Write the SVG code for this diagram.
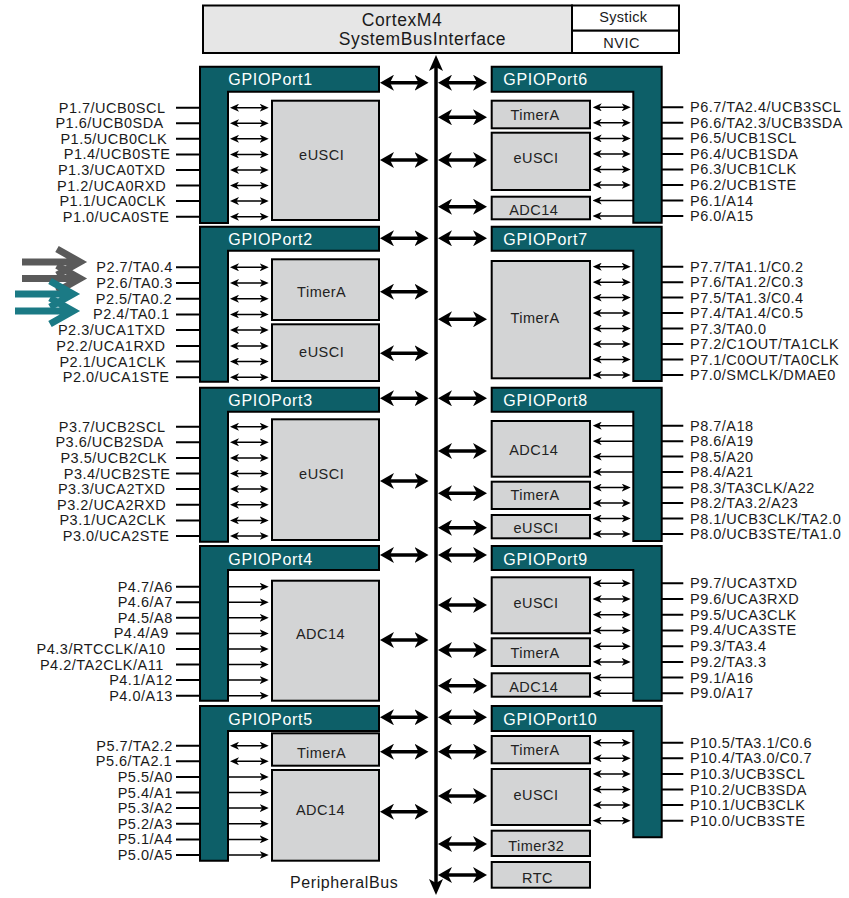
<svg xmlns="http://www.w3.org/2000/svg" width="849" height="898" viewBox="0 0 849 898">
<style>
text{font-family:"Liberation Sans",Arial,sans-serif}
.pin{font-size:14.5px;letter-spacing:0.5px;fill:#1a1a1a}
.pl{text-anchor:end}
.mod{font-size:14.5px;letter-spacing:0.5px;fill:#222;text-anchor:middle}
.ttl{font-size:16px;letter-spacing:0.7px;fill:#fff}
.port{fill:#0d5f68;stroke:#000;stroke-width:2}
.box{fill:#d3d4d5;stroke:#000;stroke-width:2}
.wire{stroke:#000;stroke-width:2;fill:none}
.bi{stroke:#000;stroke-width:1.5;marker-start:url(#sh);marker-end:url(#sh)}
.one{stroke:#000;stroke-width:1.5;marker-end:url(#sh)}
.ba{stroke:#000;stroke-width:3.5;marker-start:url(#bh);marker-end:url(#bh)}
.big{fill:none;stroke-width:7}
</style>
<defs>
<marker id="bh" viewBox="0 0 14 16" markerWidth="14" markerHeight="16" refX="8" refY="8" orient="auto-start-reverse" markerUnits="userSpaceOnUse"><path d="M0,0 L14,8 L0,16 L4,8 Z" fill="#000"/></marker>
<marker id="sh" viewBox="0 0 9 8" markerWidth="9" markerHeight="8" refX="6" refY="4" orient="auto-start-reverse" markerUnits="userSpaceOnUse"><path d="M0,0 L9,4 L0,8 L2.5,4 Z" fill="#000"/></marker>
<marker id="vh" viewBox="0 0 16 14" markerWidth="16" markerHeight="14" refX="8" refY="7" orient="auto-start-reverse" markerUnits="userSpaceOnUse"><path d="M0,0 L16,7 L0,14 L4,7 Z" fill="#000"/></marker>
</defs>
<rect width="849" height="898" fill="#fff"/>

<g id="cortex">
<rect x="203" y="5.5" width="369" height="47.5" fill="#e6e6e6" stroke="#000" stroke-width="2"/>
<text x="402" y="25.5" text-anchor="middle" font-size="17.5" letter-spacing="0.6" fill="#1a1a1a">CortexM4</text>
<text x="422.5" y="44.8" text-anchor="middle" font-size="17.5" letter-spacing="0.6" fill="#1a1a1a">SystemBusInterface</text>
</g>
<g id="systick">
<rect x="572" y="5.5" width="107" height="25.2" fill="#fff" stroke="#000" stroke-width="2"/>
<text x="623.3" y="21.7" text-anchor="middle" font-size="14.5" letter-spacing="0.3" fill="#1a1a1a">Systick</text>
</g>
<g id="nvic">
<rect x="572" y="30.7" width="107" height="22.3" fill="#fff" stroke="#000" stroke-width="2"/>
<text x="621.7" y="48.3" text-anchor="middle" font-size="14.5" letter-spacing="0.5" fill="#1a1a1a">NVIC</text>
</g>

<!-- Left ports -->
<g id="port1">
<path class="port" d="M200,66.7 H379 V91.7 H228 V223 H200 Z"/>
<text class="ttl" x="228.3" y="85.2">GPIOPort1</text>
<g class="pin pl">
<text x="165.5" y="112.7">P1.7/UCB0SCL</text>
<text x="163.8" y="128.3">P1.6/UCB0SDA</text>
<text x="167.2" y="143.8">P1.5/UCB0CLK</text>
<text x="170.5" y="159.4">P1.4/UCB0STE</text>
<text x="165.5" y="175">P1.3/UCA0TXD</text>
<text x="166.2" y="190.6">P1.2/UCA0RXD</text>
<text x="166.2" y="206.1">P1.1/UCA0CLK</text>
<text x="169.5" y="221.7">P1.0/UCA0STE</text>
</g>
</g>
<g id="p1-eusci"><rect class="box" x="272" y="100.7" width="107" height="119.3"/><text class="mod" x="321.7" y="160">eUSCI</text></g>

<g id="port2">
<path class="port" d="M200,226.7 H379 V250.7 H228 V381.7 H200 Z"/>
<text class="ttl" x="228.3" y="245">GPIOPort2</text>
<g class="pin pl">
<text x="172.8" y="272.3">P2.7/TA0.4</text>
<text x="172.8" y="288">P2.6/TA0.3</text>
<text x="172.2" y="303.7">P2.5/TA0.2</text>
<text x="169.5" y="319.4">P2.4/TA0.1</text>
<text x="165.5" y="335.1">P2.3/UCA1TXD</text>
<text x="165.5" y="350.9">P2.2/UCA1RXD</text>
<text x="166.2" y="366.6">P2.1/UCA1CLK</text>
<text x="169.5" y="382.3">P2.0/UCA1STE</text>
</g>
</g>
<g id="p2-timera"><rect class="box" x="272" y="259.3" width="107" height="60.7"/><text class="mod" x="321.7" y="296.7">TimerA</text></g>
<g id="p2-eusci"><rect class="box" x="272" y="324.3" width="107" height="56.7"/><text class="mod" x="321.7" y="356.7">eUSCI</text></g>

<g id="port3">
<path class="port" d="M200,387.7 H379 V411.7 H228 V541.7 H200 Z"/>
<text class="ttl" x="228.3" y="406">GPIOPort3</text>
<g class="pin pl">
<text x="165.5" y="431.7">P3.7/UCB2SCL</text>
<text x="163.8" y="447.3">P3.6/UCB2SDA</text>
<text x="167.2" y="462.9">P3.5/UCB2CLK</text>
<text x="170.5" y="478.5">P3.4/UCB2STE</text>
<text x="165.5" y="494.1">P3.3/UCA2TXD</text>
<text x="166.2" y="509.8">P3.2/UCA2RXD</text>
<text x="166.2" y="525.4">P3.1/UCA2CLK</text>
<text x="169.5" y="541">P3.0/UCA2STE</text>
</g>
</g>
<g id="p3-eusci"><rect class="box" x="272" y="419.3" width="107" height="120.7"/><text class="mod" x="321.7" y="479.3">eUSCI</text></g>

<g id="port4">
<path class="port" d="M200,546 H379 V570 H228 V700.7 H200 Z"/>
<text class="ttl" x="228.3" y="564.5">GPIOPort4</text>
<g class="pin pl">
<text x="172.8" y="591.7">P4.7/A6</text>
<text x="172.8" y="607.3">P4.6/A7</text>
<text x="172.8" y="622.8">P4.5/A8</text>
<text x="168.8" y="638.4">P4.4/A9</text>
<text x="165.5" y="654">P4.3/RTCCLK/A10</text>
<text x="163.8" y="669.6">P4.2/TA2CLK/A11</text>
<text x="172.8" y="685.1">P4.1/A12</text>
<text x="172.8" y="700.7">P4.0/A13</text>
</g>
</g>
<g id="p4-adc14"><rect class="box" x="272" y="580.7" width="107" height="120"/><text class="mod" x="320.5" y="639.3">ADC14</text></g>

<g id="port5">
<path class="port" d="M200,706 H379 V731 H228 V860.7 H200 Z"/>
<text class="ttl" x="228.3" y="724.5">GPIOPort5</text>
<g class="pin pl">
<text x="172.8" y="750.7">P5.7/TA2.2</text>
<text x="172.2" y="766.3">P5.6/TA2.1</text>
<text x="172.8" y="781.9">P5.5/A0</text>
<text x="172.8" y="797.5">P5.4/A1</text>
<text x="172.8" y="813.1">P5.3/A2</text>
<text x="172.8" y="828.8">P5.2/A3</text>
<text x="172.8" y="844.4">P5.1/A4</text>
<text x="172.8" y="860">P5.0/A5</text>
</g>
</g>
<g id="p5-timera"><rect class="box" x="272" y="733.3" width="107" height="32.4"/><text class="mod" x="321.7" y="757.7">TimerA</text></g>
<g id="p5-adc14"><rect class="box" x="272" y="770" width="107" height="90.7"/><text class="mod" x="320.5" y="815">ADC14</text></g>

<!-- Right ports -->
<g id="port6">
<path class="port" d="M491.7,66.7 H661.7 V222.7 H633.3 V91.7 H491.7 Z"/>
<text class="ttl" x="503.3" y="85.2">GPIOPort6</text>
<g class="pin">
<text x="690" y="112.3">P6.7/TA2.4/UCB3SCL</text>
<text x="690" y="127.8">P6.6/TA2.3/UCB3SDA</text>
<text x="690" y="143.4">P6.5/UCB1SCL</text>
<text x="690" y="158.9">P6.4/UCB1SDA</text>
<text x="690" y="174.4">P6.3/UCB1CLK</text>
<text x="690" y="189.9">P6.2/UCB1STE</text>
<text x="690" y="205.5">P6.1/A14</text>
<text x="690" y="221">P6.0/A15</text>
</g>
</g>
<g id="p6-timera"><rect class="box" x="491.7" y="100.7" width="98.3" height="27.6"/><text class="mod" x="535" y="120">TimerA</text></g>
<g id="p6-eusci"><rect class="box" x="491.7" y="132.7" width="98.3" height="57.3"/><text class="mod" x="536" y="163.3">eUSCI</text></g>
<g id="p6-adc14"><rect class="box" x="491.7" y="196.7" width="98.3" height="22.6"/><text class="mod" x="533.8" y="215">ADC14</text></g>

<g id="port7">
<path class="port" d="M491.7,226.7 H661.7 V381 H633.3 V250.7 H491.7 Z"/>
<text class="ttl" x="503.3" y="245">GPIOPort7</text>
<g class="pin">
<text x="690" y="271.7">P7.7/TA1.1/C0.2</text>
<text x="690" y="287.2">P7.6/TA1.2/C0.3</text>
<text x="690" y="302.6">P7.5/TA1.3/C0.4</text>
<text x="690" y="318.1">P7.4/TA1.4/C0.5</text>
<text x="690" y="333.6">P7.3/TA0.0</text>
<text x="690" y="349.1">P7.2/C1OUT/TA1CLK</text>
<text x="690" y="364.5">P7.1/C0OUT/TA0CLK</text>
<text x="690" y="380">P7.0/SMCLK/DMAE0</text>
</g>
</g>
<g id="p7-timera"><rect class="box" x="491.7" y="261" width="98.3" height="117.3"/><text class="mod" x="535" y="323.3">TimerA</text></g>

<g id="port8">
<path class="port" d="M491.7,387.7 H661.7 V541 H633.3 V411.7 H491.7 Z"/>
<text class="ttl" x="503.3" y="406">GPIOPort8</text>
<g class="pin">
<text x="690" y="430.7">P8.7/A18</text>
<text x="690" y="446.2">P8.6/A19</text>
<text x="690" y="461.6">P8.5/A20</text>
<text x="690" y="477.1">P8.4/A21</text>
<text x="690" y="492.6">P8.3/TA3CLK/A22</text>
<text x="690" y="508.1">P8.2/TA3.2/A23</text>
<text x="690" y="523.5">P8.1/UCB3CLK/TA2.0</text>
<text x="690" y="539">P8.0/UCB3STE/TA1.0</text>
</g>
</g>
<g id="p8-adc14"><rect class="box" x="491.7" y="421" width="98.3" height="55.7"/><text class="mod" x="533.8" y="455">ADC14</text></g>
<g id="p8-timera"><rect class="box" x="491.7" y="481.7" width="98.3" height="27.3"/><text class="mod" x="535" y="500">TimerA</text></g>
<g id="p8-eusci"><rect class="box" x="491.7" y="515" width="98.3" height="23.3"/><text class="mod" x="536" y="532.7">eUSCI</text></g>

<g id="port9">
<path class="port" d="M491.7,546 H661.7 V700.7 H633.3 V570 H491.7 Z"/>
<text class="ttl" x="503.3" y="564.5">GPIOPort9</text>
<g class="pin">
<text x="690" y="588.3">P9.7/UCA3TXD</text>
<text x="690" y="604">P9.6/UCA3RXD</text>
<text x="690" y="619.7">P9.5/UCA3CLK</text>
<text x="690" y="635.4">P9.4/UCA3STE</text>
<text x="690" y="651.2">P9.3/TA3.4</text>
<text x="690" y="666.9">P9.2/TA3.3</text>
<text x="690" y="682.6">P9.1/A16</text>
<text x="690" y="698.3">P9.0/A17</text>
</g>
</g>
<g id="p9-eusci"><rect class="box" x="491.7" y="577.3" width="98.3" height="56"/><text class="mod" x="536" y="608.3">eUSCI</text></g>
<g id="p9-timera"><rect class="box" x="491.7" y="638.3" width="98.3" height="27.7"/><text class="mod" x="535" y="658.3">TimerA</text></g>
<g id="p9-adc14"><rect class="box" x="491.7" y="673.3" width="98.3" height="23.4"/><text class="mod" x="533.8" y="691.7">ADC14</text></g>

<g id="port10">
<path class="port" d="M491.7,706 H661.7 V837.3 H633.3 V731 H491.7 Z"/>
<text class="ttl" x="503.3" y="724.5">GPIOPort10</text>
<g class="pin">
<text x="690" y="747.7">P10.5/TA3.1/C0.6</text>
<text x="690" y="763.3">P10.4/TA3.0/C0.7</text>
<text x="690" y="778.9">P10.3/UCB3SCL</text>
<text x="690" y="794.5">P10.2/UCB3SDA</text>
<text x="690" y="810.1">P10.1/UCB3CLK</text>
<text x="690" y="825.7">P10.0/UCB3STE</text>
</g>
</g>
<g id="p10-timera"><rect class="box" x="491.7" y="736" width="98.3" height="27.3"/><text class="mod" x="535" y="755">TimerA</text></g>
<g id="p10-eusci"><rect class="box" x="491.7" y="769" width="98.3" height="56"/><text class="mod" x="536" y="800">eUSCI</text></g>
<g id="timer32"><rect class="box" x="491.7" y="830.7" width="98.3" height="25.3"/><text class="mod" x="536.2" y="850.7">Timer32</text></g>
<g id="rtc"><rect class="box" x="491.7" y="862" width="98.3" height="25.7"/><text class="mod" x="537.5" y="882.7">RTC</text></g>

<g id="peripheralbus-label"><text x="290" y="888.3" font-size="16" letter-spacing="0.6" fill="#1a1a1a">PeripheralBus</text></g>

<g id="connectors">
<line x1="436" y1="63" x2="436" y2="887" stroke="#000" stroke-width="3.5" marker-start="url(#vh)" marker-end="url(#vh)"/>
<g class="ba">
<line x1="386" y1="82.7" x2="422.5" y2="82.7"/>
<line x1="386" y1="160" x2="422.5" y2="160"/>
<line x1="386" y1="238.3" x2="422.5" y2="238.3"/>
<line x1="386" y1="291.7" x2="422.5" y2="291.7"/>
<line x1="386" y1="353.3" x2="422.5" y2="353.3"/>
<line x1="386" y1="398.3" x2="422.5" y2="398.3"/>
<line x1="386" y1="481" x2="422.5" y2="481"/>
<line x1="386" y1="555" x2="422.5" y2="555"/>
<line x1="386" y1="640" x2="422.5" y2="640"/>
<line x1="386" y1="717.3" x2="422.5" y2="717.3"/>
<line x1="386" y1="751.7" x2="422.5" y2="751.7"/>
<line x1="386" y1="811.7" x2="422.5" y2="811.7"/>
<line x1="444" y1="82.7" x2="481" y2="82.7"/>
<line x1="444" y1="117.3" x2="481" y2="117.3"/>
<line x1="444" y1="160" x2="481" y2="160"/>
<line x1="444" y1="206.7" x2="481" y2="206.7"/>
<line x1="444" y1="238.3" x2="481" y2="238.3"/>
<line x1="444" y1="319.3" x2="481" y2="319.3"/>
<line x1="444" y1="398.3" x2="481" y2="398.3"/>
<line x1="444" y1="451" x2="481" y2="451"/>
<line x1="444" y1="493.3" x2="481" y2="493.3"/>
<line x1="444" y1="527.7" x2="481" y2="527.7"/>
<line x1="444" y1="555" x2="481" y2="555"/>
<line x1="444" y1="605" x2="481" y2="605"/>
<line x1="444" y1="650" x2="481" y2="650"/>
<line x1="444" y1="685.7" x2="481" y2="685.7"/>
<line x1="444" y1="717.3" x2="481" y2="717.3"/>
<line x1="444" y1="751.7" x2="481" y2="751.7"/>
<line x1="444" y1="796" x2="481" y2="796"/>
<line x1="444" y1="844" x2="481" y2="844"/>
<line x1="444" y1="875" x2="481" y2="875"/>
</g>
<path class="wire" d="M176,107.7H200M176,123.3H200M176,138.8H200M176,154.4H200M176,170H200M176,185.6H200M176,201.1H200M176,216.7H200
M176,267.3H200M176,283H200M176,298.7H200M176,314.4H200M176,330.1H200M176,345.9H200M176,361.6H200M176,377.3H200
M176,426.7H200M176,442.3H200M176,457.9H200M176,473.5H200M176,489.1H200M176,504.8H200M176,520.4H200M176,536H200
M176,586.7H200M176,602.3H200M176,617.8H200M176,633.4H200M176,649H200M176,664.6H200M176,680.1H200M176,695.7H200
M176,745.7H200M176,761.3H200M176,776.9H200M176,792.5H200M176,808.1H200M176,823.8H200M176,839.4H200M176,855H200"/>
<path class="wire" d="M661.7,107.3H683.3M661.7,122.8H683.3M661.7,138.4H683.3M661.7,153.9H683.3M661.7,169.4H683.3M661.7,184.9H683.3M661.7,200.5H683.3M661.7,216H683.3
M661.7,266.7H683.3M661.7,282.2H683.3M661.7,297.6H683.3M661.7,313.1H683.3M661.7,328.6H683.3M661.7,344.1H683.3M661.7,359.5H683.3M661.7,375H683.3
M661.7,425.7H683.3M661.7,441.2H683.3M661.7,456.6H683.3M661.7,472.1H683.3M661.7,487.6H683.3M661.7,503.1H683.3M661.7,518.5H683.3M661.7,534H683.3
M661.7,583.3H683.3M661.7,599H683.3M661.7,614.7H683.3M661.7,630.4H683.3M661.7,646.2H683.3M661.7,661.9H683.3M661.7,677.6H683.3M661.7,693.3H683.3
M661.7,742.7H683.3M661.7,758.3H683.3M661.7,773.9H683.3M661.7,789.5H683.3M661.7,805.1H683.3M661.7,820.7H683.3"/>
<g class="bi">
<line x1="233" y1="107.7" x2="265.7" y2="107.7"/><line x1="233" y1="123.3" x2="265.7" y2="123.3"/><line x1="233" y1="138.8" x2="265.7" y2="138.8"/><line x1="233" y1="154.4" x2="265.7" y2="154.4"/><line x1="233" y1="170" x2="265.7" y2="170"/><line x1="233" y1="185.6" x2="265.7" y2="185.6"/><line x1="233" y1="201.1" x2="265.7" y2="201.1"/><line x1="233" y1="216.7" x2="265.7" y2="216.7"/>
<line x1="233" y1="267.3" x2="265.7" y2="267.3"/><line x1="233" y1="283" x2="265.7" y2="283"/><line x1="233" y1="298.7" x2="265.7" y2="298.7"/><line x1="233" y1="314.4" x2="265.7" y2="314.4"/><line x1="233" y1="330.1" x2="265.7" y2="330.1"/><line x1="233" y1="345.9" x2="265.7" y2="345.9"/><line x1="233" y1="361.6" x2="265.7" y2="361.6"/><line x1="233" y1="377.3" x2="265.7" y2="377.3"/>
<line x1="233" y1="426.7" x2="265.7" y2="426.7"/><line x1="233" y1="442.3" x2="265.7" y2="442.3"/><line x1="233" y1="457.9" x2="265.7" y2="457.9"/><line x1="233" y1="473.5" x2="265.7" y2="473.5"/><line x1="233" y1="489.1" x2="265.7" y2="489.1"/><line x1="233" y1="504.8" x2="265.7" y2="504.8"/><line x1="233" y1="520.4" x2="265.7" y2="520.4"/><line x1="233" y1="536" x2="265.7" y2="536"/>
<line x1="233" y1="745.7" x2="265.7" y2="745.7"/><line x1="233" y1="761.3" x2="265.7" y2="761.3"/>
</g>
<g class="one">
<line x1="228" y1="586.7" x2="265.7" y2="586.7"/><line x1="228" y1="602.3" x2="265.7" y2="602.3"/><line x1="228" y1="617.8" x2="265.7" y2="617.8"/><line x1="228" y1="633.4" x2="265.7" y2="633.4"/><line x1="228" y1="649" x2="265.7" y2="649"/><line x1="228" y1="664.6" x2="265.7" y2="664.6"/><line x1="228" y1="680.1" x2="265.7" y2="680.1"/><line x1="228" y1="695.7" x2="265.7" y2="695.7"/>
<line x1="228" y1="776.9" x2="265.7" y2="776.9"/><line x1="228" y1="792.5" x2="265.7" y2="792.5"/><line x1="228" y1="808.1" x2="265.7" y2="808.1"/><line x1="228" y1="823.8" x2="265.7" y2="823.8"/><line x1="228" y1="839.4" x2="265.7" y2="839.4"/><line x1="228" y1="855" x2="265.7" y2="855"/>
</g>
<g class="bi">
<line x1="595.7" y1="107.3" x2="627.7" y2="107.3"/><line x1="595.7" y1="122.8" x2="627.7" y2="122.8"/><line x1="595.7" y1="138.4" x2="627.7" y2="138.4"/><line x1="595.7" y1="153.9" x2="627.7" y2="153.9"/><line x1="595.7" y1="169.4" x2="627.7" y2="169.4"/><line x1="595.7" y1="184.9" x2="627.7" y2="184.9"/>
<line x1="595.7" y1="266.7" x2="627.7" y2="266.7"/><line x1="595.7" y1="282.2" x2="627.7" y2="282.2"/><line x1="595.7" y1="297.6" x2="627.7" y2="297.6"/><line x1="595.7" y1="313.1" x2="627.7" y2="313.1"/><line x1="595.7" y1="328.6" x2="627.7" y2="328.6"/><line x1="595.7" y1="344.1" x2="627.7" y2="344.1"/><line x1="595.7" y1="359.5" x2="627.7" y2="359.5"/><line x1="595.7" y1="375" x2="627.7" y2="375"/>
<line x1="595.7" y1="487.6" x2="627.7" y2="487.6"/><line x1="595.7" y1="503.1" x2="627.7" y2="503.1"/><line x1="595.7" y1="518.5" x2="627.7" y2="518.5"/><line x1="595.7" y1="534" x2="627.7" y2="534"/>
<line x1="595.7" y1="583.3" x2="627.7" y2="583.3"/><line x1="595.7" y1="599" x2="627.7" y2="599"/><line x1="595.7" y1="614.7" x2="627.7" y2="614.7"/><line x1="595.7" y1="630.4" x2="627.7" y2="630.4"/><line x1="595.7" y1="646.2" x2="627.7" y2="646.2"/><line x1="595.7" y1="661.9" x2="627.7" y2="661.9"/>
<line x1="595.7" y1="742.7" x2="627.7" y2="742.7"/><line x1="595.7" y1="758.3" x2="627.7" y2="758.3"/><line x1="595.7" y1="773.9" x2="627.7" y2="773.9"/><line x1="595.7" y1="789.5" x2="627.7" y2="789.5"/><line x1="595.7" y1="805.1" x2="627.7" y2="805.1"/><line x1="595.7" y1="820.7" x2="627.7" y2="820.7"/>
</g>
<g class="one">
<line x1="633.3" y1="200.5" x2="595.7" y2="200.5"/><line x1="633.3" y1="216" x2="595.7" y2="216"/>
<line x1="633.3" y1="425.7" x2="595.7" y2="425.7"/><line x1="633.3" y1="441.2" x2="595.7" y2="441.2"/><line x1="633.3" y1="456.6" x2="595.7" y2="456.6"/><line x1="633.3" y1="472.1" x2="595.7" y2="472.1"/>
<line x1="633.3" y1="677.6" x2="595.7" y2="677.6"/><line x1="633.3" y1="693.3" x2="595.7" y2="693.3"/>
</g>
</g>

<g id="highlight-arrows">
<g class="big" stroke="#5a5a5a">
<path d="M22,262 H76 M57,249 L80,262 L57,275"/>
<path d="M22,278.5 H76 M57,265.5 L80,278.5 L57,291.5"/>
</g>
<g class="big" stroke="#1b7a85">
<path d="M15,294 H69 M50,281 L73,294 L50,307"/>
<path d="M15,311 H69 M50,298 L73,311 L50,324"/>
</g>
</g>
</svg>
